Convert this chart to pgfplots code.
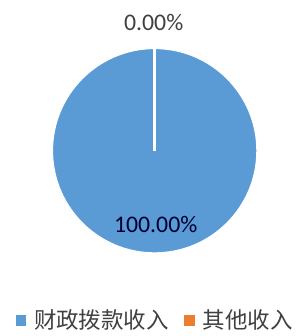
\documentclass[border=0pt]{standalone}
\usepackage{pgfplots}
\pgfplotsset{compat=1.18}
\usepackage{fontspec}
\setmainfont{Carlito}
\newfontfamily\cjk{Noto Sans CJK SC}
\definecolor{pieblue}{HTML}{5B9BD5}
\definecolor{pieorange}{HTML}{ED7D31}
\definecolor{lbl}{HTML}{404040}
\begin{document}
\begin{tikzpicture}
\begin{axis}[
  set layers,
  at={(0,0)}, anchor=origin,
  width=228pt, height=252pt, scale only axis,
  xmin=0, xmax=304, ymin=0, ymax=336,
  hide axis, clip=false,
  legend columns=2,
  legend style={draw=none, fill=none, at={(axis cs:157,13)}, anchor=center,
    font=\cjk\fontsize{17pt}{18pt}\selectfont, text=lbl,
    /tikz/every odd column/.append style={column sep=4.5pt},
    /tikz/every even column/.append style={column sep=10pt}},
  legend cell align=left,
]
\addlegendimage{only marks, mark=square*, mark size=3.6pt, color=pieblue}
\addlegendentry{财政拨款收入}
\addlegendimage{only marks, mark=square*, mark size=3.6pt, color=pieorange}
\addlegendentry{其他收入}
% pie: 100.00 (财政拨款收入), 0.00 (其他收入)
\addplot[forget plot, only marks, mark=*, mark size=77.25pt, mark layer=axis background,
  mark options={fill=pieblue, draw=white, line width=0.8pt}] coordinates {(156,184)};
\addplot[forget plot, white, line width=2.4pt, on layer=axis foreground] coordinates {(156,184) (156,290)};
\begin{pgfonlayer}{axis foreground}
\node[text=lbl, font=\fontsize{18pt}{20pt}\selectfont] at (axis cs:155,313) {0.00\%};
\node[text=black!80!blue, font=\fontsize{18pt}{20pt}\selectfont] at (axis cs:157,110) {100.00\%};
\end{pgfonlayer}
\end{axis}
\path[use as bounding box] (0,0) rectangle (228pt,252pt);
\end{tikzpicture}
\end{document}
